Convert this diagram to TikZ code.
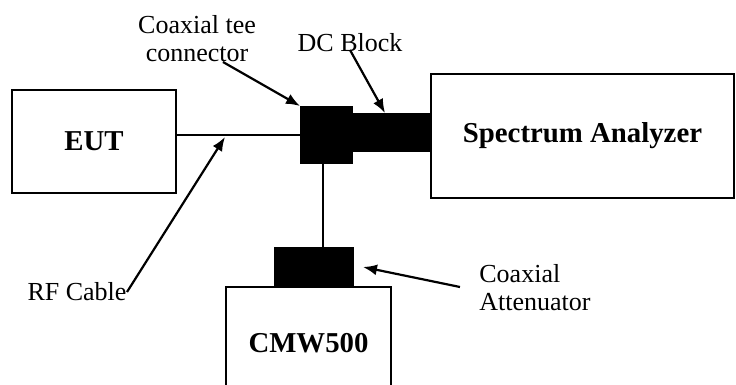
\documentclass[tikz,border=0pt]{standalone}
\usepackage{fontspec}
\setmainfont{Liberation Serif}
\usetikzlibrary{arrows.meta,calc}

\tikzset{
  unit/.style={draw,line width=1pt,inner sep=0pt,outer sep=0pt,font=\fontsize{14.4}{17}\selectfont\bfseries},
  plug/.style={fill=black,inner sep=0pt,outer sep=0pt},
  note/.style={inner sep=0pt,font=\fontsize{13}{14}\selectfont},
  pointer/.style={line width=1.1pt,-{Latex[length=7pt,width=5.5pt]}}
}

\begin{document}
\begin{tikzpicture}[x=0.5pt,y=-0.5pt]
\useasboundingbox (0,0) rectangle (736,385);
\clip (0,0) rectangle (736,385);
% boxes
\node[unit,minimum width=82pt,minimum height=51.5pt] (eut) at (94,141.5) {EUT};
\node[unit,minimum width=151.5pt,minimum height=62pt] (sa) at (582.5,136) {Spectrum Analyzer};
\node[unit,minimum width=82.5pt,minimum height=56.5pt] (cmw) at (308.5,343.5) {CMW500};
% connectors
\node[plug,minimum width=26.5pt,minimum height=29pt] (tee) at (326.5,135) {};
\node[plug,minimum width=39.5pt,minimum height=19.5pt] (dcb) at (392.5,132.5) {};
\node[plug,minimum width=40pt,minimum height=20pt] (att) at (314,267) {};
\draw[line width=1pt] (tee.west -| eut.east) -- (tee.west);
\draw[line width=1pt] ([xshift=-1.75pt]tee.south) -- ([xshift=-1.75pt]tee.south |- att.north);
% labels
\node[note,align=center] (teeLbl) at (197,39) {Coaxial tee\\connector};
\node[note] (dcLbl) at (350,43) {DC Block};
\node[note] (rfLbl) at (77,292) {RF Cable};
\node[note,align=left,anchor=west] (attLbl) at (479,288) {Coaxial\\Attenuator};
\coordinate (teeFrom) at (223,62);
\coordinate (dcFrom) at (350,50);
\coordinate (rfFrom) at (127,292);
\coordinate (rfTo) at (225,137);
\coordinate (attFrom) at (460,287);
\draw[pointer] (teeFrom) -- (tee.north west);
\draw[pointer] (dcFrom) -- ([xshift=-3.75pt]dcb.north);
\draw[pointer] (rfFrom) -- (rfTo);
\draw[pointer] (attFrom) -- ([xshift=4.5pt]att.east);
\end{tikzpicture}
\end{document}
